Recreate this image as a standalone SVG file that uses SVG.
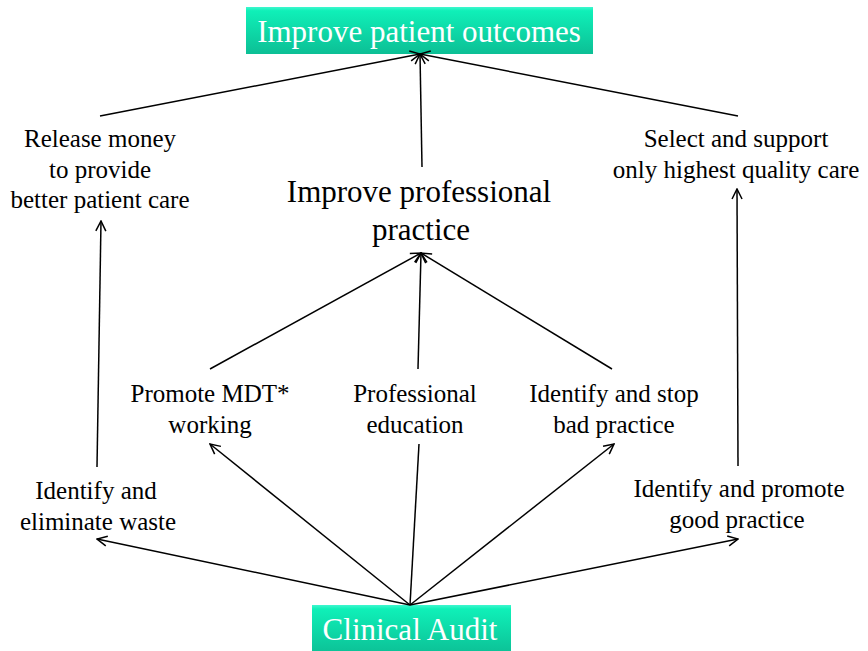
<svg xmlns="http://www.w3.org/2000/svg" width="868" height="651" viewBox="0 0 868 651">
<style>
.t{font-family:"Liberation Serif","Times New Roman",serif;font-size:25px;fill:#000;text-anchor:middle}
.big{font-size:31px}
.w{fill:#fff;font-size:31px}
.c line{stroke:#000;stroke-width:1.5;fill:none}
</style>
<defs>
<linearGradient id="g" x1="0" y1="0" x2="0" y2="1">
<stop offset="0" stop-color="#3ff7cf"/>
<stop offset="0.08" stop-color="#0ff0b8"/>
<stop offset="1" stop-color="#0cbf95"/>
</linearGradient>
<marker id="a" viewBox="0 0 12 12" refX="11" refY="6" markerWidth="12" markerHeight="12" markerUnits="userSpaceOnUse" orient="auto">
<path d="M1,1 L11,6 L1,11" fill="none" stroke="#000" stroke-width="1.5"/>
</marker>
</defs>
<g id="outcomes">
<rect x="246" y="7" width="347" height="47" fill="url(#g)"/>
<text class="t w" x="419" y="42">Improve patient outcomes</text>
</g>
<g id="audit">
<rect x="312" y="605" width="199" height="50" fill="url(#g)"/>
<text class="t w" x="410" y="640">Clinical Audit</text>
</g>
<g id="release">
<text class="t" x="100" y="147">Release money</text>
<text class="t" x="100" y="178">to provide</text>
<text class="t" x="100" y="208">better patient care</text>
</g>
<g id="select">
<text class="t" x="736" y="147">Select and support</text>
<text class="t" x="736" y="178">only highest quality care</text>
</g>
<g id="practice">
<text class="t big" x="419" y="202">Improve professional</text>
<text class="t big" x="421" y="240">practice</text>
</g>
<g id="mdt">
<text class="t" x="210" y="402">Promote MDT*</text>
<text class="t" x="210" y="433">working</text>
</g>
<g id="education">
<text class="t" x="415" y="402">Professional</text>
<text class="t" x="415" y="433">education</text>
</g>
<g id="bad">
<text class="t" x="614" y="402">Identify and stop</text>
<text class="t" x="614" y="433">bad practice</text>
</g>
<g id="waste">
<text class="t" x="96" y="499">Identify and</text>
<text class="t" x="98" y="530">eliminate waste</text>
</g>
<g id="good">
<text class="t" x="739" y="497">Identify and promote</text>
<text class="t" x="737" y="528">good practice</text>
</g>
<g class="c" id="connectors">
<line x1="100" y1="116" x2="420" y2="54" marker-end="url(#a)"/>
<line x1="422" y1="167" x2="420" y2="54" marker-end="url(#a)"/>
<line x1="738" y1="116" x2="420" y2="54" marker-end="url(#a)"/>
<line x1="97" y1="467" x2="101" y2="221" marker-end="url(#a)"/>
<line x1="738" y1="466" x2="737" y2="189" marker-end="url(#a)"/>
<line x1="210" y1="369" x2="421" y2="253" marker-end="url(#a)"/>
<line x1="418" y1="369" x2="421" y2="253" marker-end="url(#a)"/>
<line x1="612" y1="369" x2="421" y2="253" marker-end="url(#a)"/>
<line x1="410" y1="605" x2="97" y2="539" marker-end="url(#a)"/>
<line x1="410" y1="605" x2="210" y2="444" marker-end="url(#a)"/>
<line x1="410" y1="605" x2="419" y2="444"/>
<line x1="410" y1="605" x2="614" y2="444" marker-end="url(#a)"/>
<line x1="410" y1="605" x2="738" y2="539" marker-end="url(#a)"/>
</g>
</svg>
